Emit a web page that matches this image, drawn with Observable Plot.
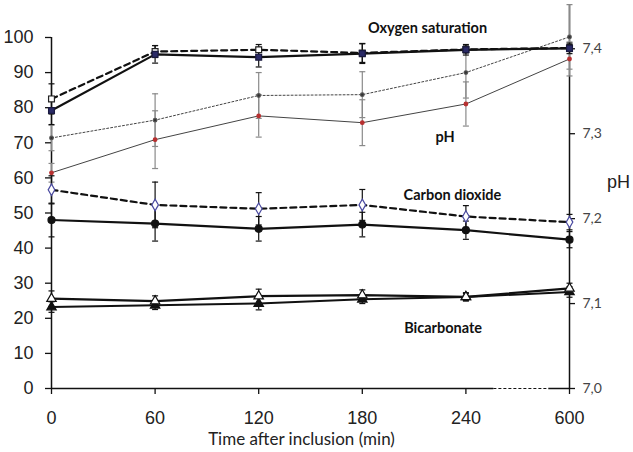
<!DOCTYPE html>
<html><head><meta charset="utf-8">
<script src="https://cdn.jsdelivr.net/npm/d3@7"></script>
<script src="https://cdn.jsdelivr.net/npm/@observablehq/plot@0.6"></script>
<style>body{margin:0;background:#fff}</style>
</head><body><div id="chart"></div>
<script>
// ---- data ----
const timeLabels = ["0", "60", "120", "180", "240", "600"];

const o2Open      = [82.5, 96.0, 96.5, 95.6, 96.6, 97.0];
const o2OpenErr   = [4.3, 1.7, 1.5, 2.7, 1.0, 1.0];
const o2Filled    = [79.2, 95.2, 94.4, 95.4, 96.5, 96.9];
const o2FilledErr = [4.0, 2.5, 2.8, 2.8, 1.5, 1.5];

const phDotted    = [7.295, 7.316, 7.345, 7.346, 7.372, 7.414];
const phDottedErr = [0.015, 0.031, 0.027, 0.027, 0.030, 0.038];
const phSolid     = [7.254, 7.293, 7.321, 7.313, 7.335, 7.388];
const phSolidErr  = [0.011, 0.034, 0.025, 0.027, 0.026, 0.020];

const co2Open      = [56.6, 52.3, 51.2, 52.3, 49.0, 47.4];
const co2OpenErr   = [4.0, 6.5, 4.6, 4.4, 3.1, 2.2];
const co2Filled    = [48.0, 47.0, 45.5, 46.7, 45.1, 42.4];
const co2FilledErr = [4.8, 5.0, 3.5, 3.5, 2.6, 2.3];

const hco3Open      = [25.6, 24.9, 26.3, 26.6, 26.1, 28.5];
const hco3OpenErr   = [2.2, 1.5, 2.0, 1.5, 1.2, 1.5];
const hco3Filled    = [23.2, 23.7, 24.2, 25.4, 26.1, 27.5];
const hco3FilledErr = [1.5, 1.2, 1.8, 1.2, 1.0, 1.5];

const leftTicks = [0, 10, 20, 30, 40, 50, 60, 70, 80, 90, 100];
const phTicks = [7.0, 7.1, 7.2, 7.3, 7.4];
const annotations = ["Oxygen saturation", "pH", "Carbon dioxide", "Bicarbonate"];

// ---- helpers ----
const PH_SCALE = 850 / 3.513;           // pH units -> left-axis units
const toLeft = p => (p - 7) * PH_SCALE;
const fromLeft = v => 7 + v / PH_SCALE;
const rows = (vals, errs, conv = v => v) =>
  vals.map((v, k) => ({i: k, v: conv(v), lo: conv(v - errs[k]), hi: conv(v + errs[k])}));
const cap = {draw(ctx, size) { const w = Math.sqrt(size / Math.PI); ctx.moveTo(-w, 0); ctx.lineTo(w, 0); }};

const series = [
  {d: rows(phDotted, phDottedErr, toLeft), stroke: "#444", sw: 1, dash: "2,2", sym: "circle", r: 1.8, fill: "#333", ms: "#555", err: "#8a8a8a"},
  {d: rows(phSolid, phSolidErr, toLeft), stroke: "#444", sw: 1, dash: null, sym: "circle", r: 1.8, fill: "#b83030", ms: "#b83030", err: "#8a8a8a"},
  {d: rows(hco3Filled, hco3FilledErr), stroke: "#111", sw: 2, dash: null, sym: "triangle", r: 3.5, fill: "#111", ms: "#111", err: "#111"},
  {d: rows(hco3Open, hco3OpenErr), stroke: "#111", sw: 2.2, dash: null, sym: "triangle", r: 3.5, fill: "#fff", ms: "#111", err: "#111"},
  {d: rows(co2Filled, co2FilledErr), stroke: "#111", sw: 2.2, dash: null, sym: "circle", r: 3.5, fill: "#111", ms: "#111", err: "#111"},
  {d: rows(co2Open, co2OpenErr), stroke: "#111", sw: 2.2, dash: "6,4", sym: "diamond", r: 3.5, fill: "#fff", ms: "#4a4aa0", err: "#111"},
  {d: rows(o2Open, o2OpenErr), stroke: "#111", sw: 2.2, dash: "6,4", sym: "square", r: 3.3, fill: "#fff", ms: "#222", err: "#111"},
  {d: rows(o2Filled, o2FilledErr), stroke: "#111", sw: 2.2, dash: null, sym: "square", r: 3.3, fill: "#2a2a66", ms: "#1a1a40", err: "#111"}
];

const marks = [];
for (const s of series) {
  marks.push(Plot.line(s.d, {x: "i", y: "v", stroke: s.stroke, strokeWidth: s.sw, strokeDasharray: s.dash}));
  marks.push(Plot.ruleX(s.d, {x: "i", y1: "lo", y2: "hi", stroke: s.err, strokeWidth: 1.2}));
  marks.push(Plot.dot(s.d, {x: "i", y: "lo", symbol: cap, r: 3, stroke: s.err, fill: "none", strokeWidth: 1.2}));
  marks.push(Plot.dot(s.d, {x: "i", y: "hi", symbol: cap, r: 3, stroke: s.err, fill: "none", strokeWidth: 1.2}));
}
for (const s of series) {
  marks.push(Plot.dot(s.d, {x: "i", y: "v", symbol: s.sym, r: s.r, fill: s.fill, stroke: s.ms, strokeWidth: 1.2}));
}

const yTop = 109.4;
const chart = Plot.plot({
  width: 633,
  height: 452,
  marginLeft: 51,
  marginRight: 64,
  marginTop: 4,
  marginBottom: 64,
  style: {fontFamily: "Liberation Sans", background: "#fff", color: "#222"},
  x: {type: "linear", domain: [0, timeLabels.length - 1]},
  y: {domain: [0, yTop]},
  marks: [
    // axis lines
    Plot.ruleX([0], {y1: 0, y2: 100, stroke: "#111", strokeWidth: 1.5}),
    Plot.ruleX([timeLabels.length - 1], {y1: 0, y2: yTop, stroke: "#111", strokeWidth: 1.5}),
    Plot.ruleY([0], {x1: 0, x2: 4.27, stroke: "#111", strokeWidth: 1.5}),
    Plot.ruleY([0], {x1: 4.27, x2: 4.8, stroke: "#111", strokeWidth: 1.2, strokeDasharray: "3,2"}),
    Plot.ruleY([0], {x1: 4.8, x2: 5, stroke: "#111", strokeWidth: 1.5}),
    Plot.axisY(leftTicks, {anchor: "left", tickSize: 6, tickPadding: 12, fontSize: 18, label: null, stroke: "#111", strokeWidth: 1.3}),
    Plot.axisY(phTicks.map(toLeft), {anchor: "right", tickSize: 5, tickPadding: 8, fontSize: 14, fontFamily: "Lato", fill: "#444",
      tickFormat: d => fromLeft(d).toFixed(1).replace(".", ","), label: null, stroke: "#111", strokeWidth: 1.3}),
    Plot.axisX(timeLabels.map((_, k) => k), {anchor: "bottom", tickSize: 6, tickPadding: 17, fontSize: 18,
      tickFormat: d => timeLabels[d], label: null, stroke: "#111", strokeWidth: 1.3}),
    ...marks,
    // annotations
    Plot.text([annotations[0]], {x: 3.63, y: 102.6, text: d => d, fontFamily: "Lato", fontWeight: "bold", fontSize: 14.5, fill: "#111"}),
    Plot.text([annotations[1]], {x: 3.80, y: 71.5, text: d => d, fontFamily: "Lato", fontWeight: "bold", fontSize: 14.5, fill: "#111"}),
    Plot.text([annotations[2]], {x: 3.87, y: 55.0, text: d => d, fontFamily: "Lato", fontWeight: "bold", fontSize: 14.5, fill: "#111"}),
    Plot.text([annotations[3]], {x: 3.78, y: 17.2, text: d => d, fontFamily: "Lato", fontWeight: "bold", fontSize: 14.5, fill: "#111"}),
    // axis titles
    Plot.text(["pH"], {frameAnchor: "right", textAnchor: "middle", dx: 49, dy: -14, text: d => d, fontSize: 18, fill: "#222"}),
    Plot.text(["Time after inclusion (min)"], {frameAnchor: "bottom", textAnchor: "middle", dx: -9, dy: 44, lineAnchor: "top", text: d => d, fontFamily: "Lato", fontSize: 17, fill: "#222"})
  ]
});
document.getElementById("chart").appendChild(chart);
</script>
</body></html>
